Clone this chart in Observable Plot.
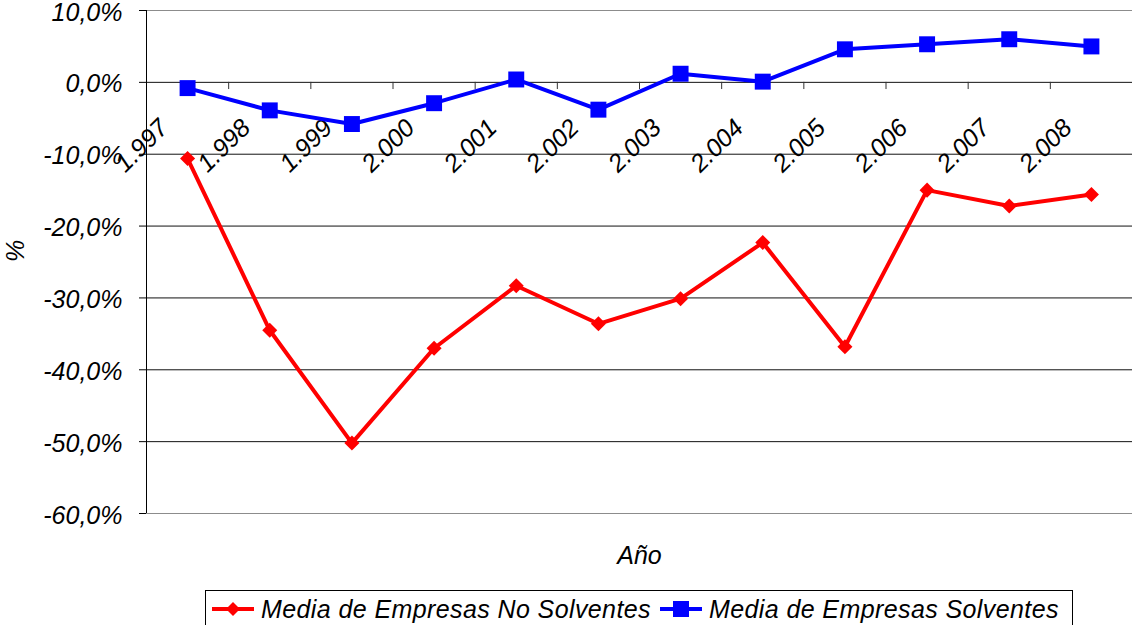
<!DOCTYPE html>
<html>
<head>
<meta charset="utf-8">
<script src="https://cdn.jsdelivr.net/npm/d3@7"></script>
<script src="https://cdn.jsdelivr.net/npm/@observablehq/plot@0.6"></script>
<style>
  html, body { margin: 0; padding: 0; background: #fff; }
  body { width: 1132px; height: 625px; overflow: hidden; font-family: "Liberation Sans", Arial, sans-serif; }
  #legend {
    margin-left: 205px; width: 868px; height: 38px; box-sizing: border-box;
    border: 1px solid #000; display: flex; align-items: center; padding-left: 6px;
    font-style: italic; font-size: 25px; white-space: nowrap; letter-spacing: 0.4px;
  }
  #legend .item { display: flex; align-items: center; }
  #legend svg { margin-right: 7px; }
  #legend .gap { width: 9px; }
</style>
</head>
<body>
<div id="chart"></div>
<div id="legend"></div>
<script>
const years = [1997, 1998, 1999, 2000, 2001, 2002, 2003, 2004, 2005, 2006, 2007, 2008];
const yearLabels = ["1.997", "1.998", "1.999", "2.000", "2.001", "2.002", "2.003", "2.004", "2.005", "2.006", "2.007", "2.008"];
const noSolventes = [-10.6, -34.5, -50.2, -37.0, -28.3, -33.6, -30.1, -22.3, -36.8, -15.0, -17.2, -15.6];
const solventes = [-0.8, -3.9, -5.8, -2.9, 0.4, -3.8, 1.2, 0.1, 4.6, 5.3, 6.0, 5.0];
const yTicks = [10, 0, -10, -20, -30, -40, -50, -60];
const seriesNames = ["Media de Empresas No Solventes", "Media de Empresas Solventes"];
const seriesColors = ["#ff0000", "#0000ff"];

const rows = years.map((yr, i) => ({
  pos: i + 0.5,
  label: yearLabels[i],
  noSol: noSolventes[i],
  sol: solventes[i]
}));
const boundaries = years.slice(1).map((_, i) => i + 1);
const fmt = d => d.toFixed(1).replace(".", ",") + "%";
const innerTicks = yTicks.filter(d => d !== d3.max(yTicks) && d !== d3.min(yTicks));
const outerTicks = [d3.max(yTicks), d3.min(yTicks)];

const chart = Plot.plot({
  width: 1132,
  height: 590,
  marginLeft: 146,
  marginRight: 0,
  marginTop: 10,
  marginBottom: 77,
  x: { domain: [0, years.length], axis: null },
  y: { domain: [d3.min(yTicks), d3.max(yTicks)] },
  style: {
    fontFamily: "'Liberation Sans', Arial, sans-serif",
    fontStyle: "italic",
    fontSize: "25px",
    background: "white",
    overflow: "visible",
    color: "black"
  },
  marks: [
    Plot.ruleY(innerTicks, { stroke: "#111", strokeWidth: 1 }),
    Plot.ruleY(outerTicks, { stroke: "#8c8c8c", strokeWidth: 1 }),
    Plot.ruleX([0], { stroke: "#000", strokeWidth: 1 }),
    Plot.ruleX(boundaries, { y1: 0, y2: -1, stroke: "#333", strokeWidth: 1 }),
    Plot.axisY({ ticks: yTicks, tickSize: 7, tickPadding: 17, tickFormat: fmt, label: null, fontSize: 25, text: null }),
    Plot.axisY({ ticks: yTicks, tickSize: 0, tickPadding: 24, tickFormat: fmt, label: null, fontSize: 25, dy: 2 }),
    Plot.text(rows, {
      x: "pos", y: () => 0, text: "label",
      rotate: -45, textAnchor: "end", lineAnchor: "bottom",
      dx: -18, dy: 47, fill: "black", fontSize: 25
    }),
    Plot.line(rows, { x: "pos", y: "noSol", stroke: seriesColors[0], strokeWidth: 4 }),
    Plot.dot(rows, { x: "pos", y: "noSol", symbol: "square", r: 6, rotate: 45, fill: seriesColors[0], stroke: "none" }),
    Plot.line(rows, { x: "pos", y: "sol", stroke: seriesColors[1], strokeWidth: 4 }),
    Plot.dot(rows, { x: "pos", y: "sol", symbol: "square", r: 9, fill: seriesColors[1], stroke: "none" }),
    Plot.text(["%"], { frameAnchor: "left", dx: -131, rotate: -90, fill: "black", fontSize: 25 }),
    Plot.text(["Año"], { frameAnchor: "bottom", dy: 50, lineAnchor: "bottom", fill: "black", fontSize: 25 })
  ]
});
document.getElementById("chart").appendChild(chart);

// Legend
const legend = document.getElementById("legend");
seriesNames.forEach((name, k) => {
  const item = document.createElement("div");
  item.className = "item";
  const marker = k === 0
    ? `<polygon points="21,3 28,10 21,17 14,10" fill="${seriesColors[k]}"/>`
    : `<rect x="13" y="2" width="16" height="16" fill="${seriesColors[k]}"/>`;
  item.innerHTML = `<svg width="42" height="20"><line x1="0" y1="10" x2="42" y2="10" stroke="${seriesColors[k]}" stroke-width="4"/>${marker}</svg><span>${name}</span>`;
  legend.appendChild(item);
  if (k < seriesNames.length - 1) {
    const g = document.createElement("div");
    g.className = "gap";
    legend.appendChild(g);
  }
});
</script>
</body>
</html>
